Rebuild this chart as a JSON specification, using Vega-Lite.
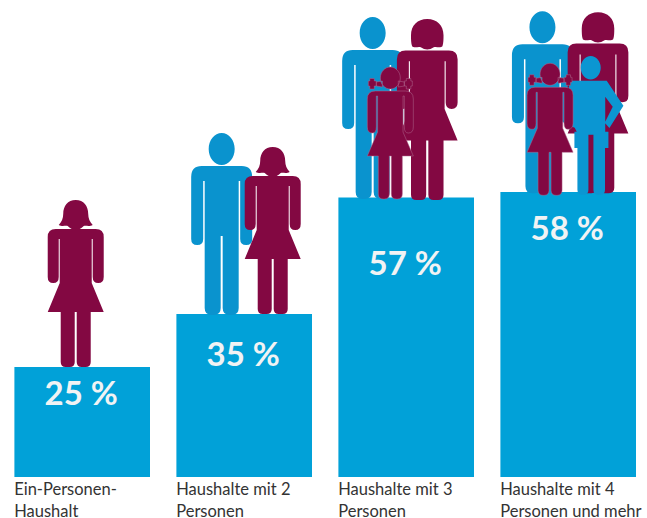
{
"$schema":"https://vega.github.io/schema/vega-lite/v6.json",
"width":647,"height":518,"padding":0,"autosize":{"type":"none"},
"background":"#ffffff",
"config":{"view":{"stroke":null}},
"datasets":{
"haushalte":[
{"haushalt":1,"kategorie":"Ein-Personen-\nHaushalt","anteil":25,"beschriftung":"25 %","labelhoehe":19.8,"kategoriehoehe":3.4},
{"haushalt":2,"kategorie":"Haushalte mit 2\nPersonen","anteil":35,"beschriftung":"35 %","labelhoehe":27.1,"kategoriehoehe":3.4},
{"haushalt":3,"kategorie":"Haushalte mit 3\nPersonen","anteil":57,"beschriftung":"57 %","labelhoehe":44.3,"kategoriehoehe":3.4},
{"haushalt":4,"kategorie":"Haushalte mit 4\nPersonen und mehr","anteil":58,"beschriftung":"58 %","labelhoehe":50.9,"kategoriehoehe":3.4}
],
"personen":[
{"haushalt":2,"figur":"Mann","x":1.861,"fuss":34.8},
{"haushalt":3,"figur":"Mann","x":2.793,"fuss":56.7},
{"haushalt":4,"figur":"Mann","x":3.841,"fuss":57.8},
{"haushalt":1,"figur":"Frau","x":0.96,"fuss":25},
{"haushalt":2,"figur":"Frau","x":2.176,"fuss":35},
{"haushalt":3,"figur":"Frau","x":3.13,"fuss":56.5},
{"haushalt":4,"figur":"Frau","x":4.184,"fuss":57.8},
{"haushalt":4,"figur":"Junge","x":4.139,"fuss":57.5},
{"haushalt":3,"figur":"Maedchen","x":2.902,"fuss":56.7},
{"haushalt":4,"figur":"Maedchen","x":3.888,"fuss":57.4}
]},
"layer":[
{"data":{"name":"haushalte"},
 "mark":{"type":"bar","width":135.6,"color":"#01a1d8"},
 "encoding":{
  "x":{"field":"haushalt","type":"quantitative","scale":{"domain":[0.4926,4.4864],"nice":false,"zero":false,"padding":0},"axis":null},
  "y":{"field":"anteil","type":"quantitative","scale":{"domain":[-3.486,94.25],"nice":false,"zero":false,"padding":0},"axis":null},
  "y2":{"datum":4.25}}},
{"data":{"name":"personen"},"transform":[{"filter":"datum.figur=='Mann'"}],
 "mark":{"type":"point","filled":true,"opacity":1,"size":4,"color":"#0a93ce","shape":"M-13,-166a13,16 0 1,1 26,0a13,16 0 1,1 -26,0ZM-20,-149L20,-149Q30.5,-149 30.5,-138L30.5,-76Q30.5,-70 24.5,-70Q18.5,-70 18.5,-76L18.5,-134L17,-134L17,-7Q17,0 10,0L8,0Q1,0 1,-7L1,-79L-1,-79L-1,-7Q-1,0 -8,0L-10,0Q-17,0 -17,-7L-17,-134L-18.5,-134L-18.5,-76Q-18.5,-70 -24.5,-70Q-30.5,-70 -30.5,-76L-30.5,-138Q-30.5,-149 -20,-149Z"},
 "encoding":{"x":{"field":"x","type":"quantitative"},"y":{"field":"fuss","type":"quantitative"}}},
{"data":{"name":"personen"},"transform":[{"filter":"datum.figur=='Frau' && datum.haushalt<=2"}],
 "mark":{"type":"point","filled":true,"opacity":1,"size":4,"color":"#830842","shape":"M0,-167C8,-167 12.5,-161 12.5,-153C12.5,-149 14,-145 17,-142C13,-140 10,-142 8,-141Q4,-137 0,-137Q-4,-137 -8,-141C-10,-142 -13,-140 -17,-142C-14,-145 -12.5,-149 -12.5,-153C-12.5,-161 -8,-167 0,-167ZM-20,-138L20,-138Q28,-138 28,-130L28,-90Q28,-84 22.5,-84Q17,-84 17,-90L17,-128L16,-128L16,-84L28,-55L15,-55L15,-5Q15,0 10,0L6,0Q1,0 1,-5L1,-55L-1,-55L-1,-5Q-1,0 -6,0L-10,0Q-15,0 -15,-5L-15,-55L-28,-55L-16,-84L-16,-128L-17,-128L-17,-90Q-17,-84 -22.5,-84Q-28,-84 -28,-90L-28,-130Q-28,-138 -20,-138Z"},
 "encoding":{"x":{"field":"x","type":"quantitative"},"y":{"field":"fuss","type":"quantitative"}}},
{"data":{"name":"personen"},"transform":[{"filter":"datum.figur=='Frau' && datum.haushalt>2"}],
 "mark":{"type":"point","filled":true,"opacity":1,"size":4.7,"color":"#830842","shape":"M0,-167C9,-167 15,-161 15,-152C15,-148 15,-145 14,-142C12,-140 8,-142 6,-141Q3,-139 0,-139Q-3,-139 -6,-141C-8,-142 -12,-140 -14,-142C-15,-145 -15,-148 -15,-152C-15,-161 -9,-167 0,-167ZM-20,-138L20,-138Q28,-138 28,-130L28,-90Q28,-84 22.5,-84Q17,-84 17,-90L17,-128L16,-128L16,-84L28,-55L15,-55L15,-5Q15,0 10,0L6,0Q1,0 1,-5L1,-55L-1,-55L-1,-5Q-1,0 -6,0L-10,0Q-15,0 -15,-5L-15,-55L-28,-55L-16,-84L-16,-128L-17,-128L-17,-90Q-17,-84 -22.5,-84Q-28,-84 -28,-90L-28,-130Q-28,-138 -20,-138Z"},
 "encoding":{"x":{"field":"x","type":"quantitative"},"y":{"field":"fuss","type":"quantitative"}}},
{"data":{"name":"personen"},"transform":[{"filter":"datum.figur=='Junge'"}],
 "mark":{"type":"point","filled":true,"opacity":1,"size":4,"color":"#0b96d2","shape":"M-10,-127a10,11.7 0 1,1 20,0a10,11.7 0 1,1 -20,0ZM-20.7,-114L16,-114L32.7,-89L18.7,-66.7L14,-72L22,-88L14.5,-98L14.5,-63L17.7,-63L17.7,-46.7L14.3,-46.7L14.3,-5Q14.3,0 9.3,0L7.7,0Q2.7,0 2.7,-5L2.7,-60L-2.3,-60L-2.3,-5Q-2.3,0 -7.3,0L-8.3,0Q-13.3,0 -13.3,-5L-13.3,-46.7L-16.3,-46.7L-16.3,-63L-14,-63L-16,-67L-21,-69L-24,-95Z"},
 "encoding":{"x":{"field":"x","type":"quantitative"},"y":{"field":"fuss","type":"quantitative"}}},
{"data":{"name":"personen"},"transform":[{"filter":"datum.figur=='Maedchen'"}],
 "mark":{"type":"point","filled":true,"opacity":1,"size":4,"color":"#820842","stroke":"#b06a90","strokeWidth":0.5,"shape":"M-10,-121a10,11 0 1,1 20,0a10,11 0 1,1 -20,0ZM8,-118L14,-117L14,-113L8,-112ZM-8,-118L-14,-117L-14,-113L-8,-112ZM14,-118L16,-118L16,-120.5L20.5,-120.5L20.5,-118L22,-118L22,-113L20.5,-113L20.5,-110L16,-110L16,-113L14,-113ZM-14,-118L-16,-118L-16,-120.5L-20.5,-120.5L-20.5,-118L-22,-118L-22,-113L-20.5,-113L-20.5,-110L-16,-110L-16,-113L-14,-113ZM-15,-108L15,-108Q23,-108 23,-100L23,-72Q23,-66 18,-66Q14,-66 14,-72L14,-103L12.7,-103L12.7,-67L23,-43L12,-43L12,-5Q12,0 7,0L6,0Q1,0 1,-5L1,-43L-1,-43L-1,-5Q-1,0 -6,0L-7,0Q-12,0 -12,-5L-12,-43L-23,-43L-12.7,-67L-12.7,-103L-14,-103L-14,-72Q-14,-66 -18,-66Q-23,-66 -23,-72L-23,-100Q-23,-108 -15,-108Z"},
 "encoding":{"x":{"field":"x","type":"quantitative"},"y":{"field":"fuss","type":"quantitative"}}},
{"data":{"name":"haushalte"},
 "mark":{"type":"text","font":"Lato","fontWeight":"bold","fontSize":33,"color":"#f1f3f4","align":"center","baseline":"middle","xOffset":-1},
 "encoding":{"x":{"field":"haushalt","type":"quantitative"},"y":{"field":"labelhoehe","type":"quantitative"},"text":{"field":"beschriftung"}}},
{"data":{"name":"haushalte"},
 "mark":{"type":"text","font":"Lato","fontSize":16.5,"color":"#333333","align":"left","baseline":"top","xOffset":-68,"lineBreak":"\n","lineHeight":22},
 "encoding":{"x":{"field":"haushalt","type":"quantitative"},"y":{"field":"kategoriehoehe","type":"quantitative"},"text":{"field":"kategorie"}}}
]
}
